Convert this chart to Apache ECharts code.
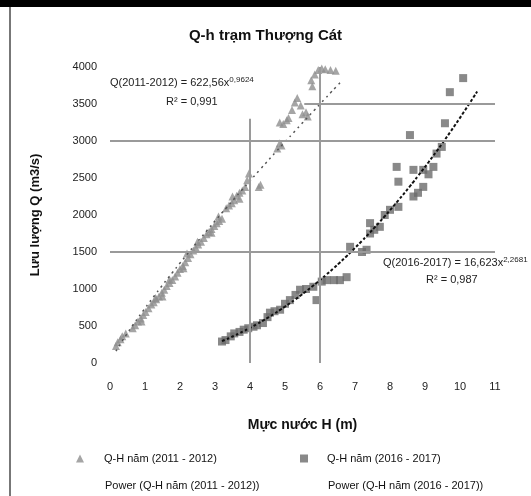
<!DOCTYPE html>
<html>
<head>
<meta charset="utf-8">
<script src="https://cdn.jsdelivr.net/npm/echarts@6/dist/echarts.min.js"></script>
<style>
  html, body { margin: 0; padding: 0; background: #fff; }
  #chart { width: 531px; height: 496px; }
</style>
</head>
<body>
<div id="chart"></div>
<script>
// tên chuỗi
const name1 = 'Q-H năm (2011 - 2012)';
const name2 = 'Q-H năm (2016 - 2017)';
const trend1 = 'Power (Q-H năm (2011 - 2012))';
const trend2 = 'Power (Q-H năm (2016 - 2017))';

// số liệu: mực nước H (m), lưu lượng Q (m3/s)
const h2011 = [0.17, 0.22, 0.3, 0.35, 0.45, 0.65, 0.72, 0.8, 0.88, 0.9, 0.95, 1.02, 1.1, 1.18, 1.25, 1.3,
  1.32, 1.4, 1.48, 1.5, 1.55, 1.62, 1.7, 1.7, 1.78, 1.86, 1.93, 2.0, 2.08, 2.1, 2.15, 2.2, 2.23, 2.3,
  2.38, 2.45, 2.5, 2.52, 2.6, 2.68, 2.76, 2.83, 2.9, 2.9, 2.98, 3.05, 3.1, 3.12, 3.2, 3.32, 3.4, 3.48,
  3.5, 3.55, 3.62, 3.7, 3.7, 3.78, 3.86, 3.92, 3.97, 4.25, 4.3, 4.78, 4.85, 4.9, 4.85, 4.95, 5.05, 5.1,
  5.2, 5.28, 5.35, 5.45, 5.5, 5.6, 5.65, 5.75, 5.78, 5.85, 5.95, 6.05, 6.15, 6.3, 6.45];
const q2011 = [230, 280, 320, 360, 400, 470, 510, 560, 600, 560, 650, 690, 740, 790, 820, 880,
  860, 900, 950, 900, 990, 1040, 1080, 1130, 1120, 1170, 1220, 1270, 1310, 1280, 1360, 1480, 1420, 1470,
  1520, 1560, 1640, 1600, 1640, 1690, 1740, 1770, 1810, 1760, 1850, 1890, 1980, 1920, 1950, 2090, 2130, 2160,
  2250, 2200, 2260, 2300, 2220, 2330, 2380, 2470, 2560, 2380, 2410, 2900, 2970, 2940, 3250, 3230, 3280, 3310,
  3420, 3520, 3580, 3480, 3360, 3390, 3330, 3820, 3740, 3900, 3960, 3980, 3970, 3960, 3950];

const h2016 = [3.2, 3.3, 3.45, 3.55, 3.7, 3.82, 3.95, 4.1, 4.2, 4.37, 4.5, 4.57, 4.7, 4.86, 5.0, 5.14,
  5.3, 5.43, 5.6, 5.81, 5.9, 6.05, 6.19, 6.4, 6.57, 6.76, 6.86, 7.2, 7.33, 7.43, 7.43, 7.55, 7.71, 7.85,
  8.0, 8.24, 8.24, 8.19, 8.57, 8.67, 8.67, 8.8, 8.95, 8.95, 9.1, 9.24, 9.33, 9.48, 9.57, 9.71, 10.09];
const q2016 = [290, 310, 360, 400, 420, 450, 470, 490, 510, 540, 620, 680, 700, 720, 800, 850,
  920, 990, 1000, 1030, 850, 1100, 1120, 1120, 1120, 1160, 1570, 1500, 1530, 1750, 1890, 1800, 1840, 2000,
  2070, 2110, 2450, 2650, 3080, 2250, 2610, 2300, 2380, 2610, 2550, 2650, 2830, 2920, 3240, 3660, 3850];

// trendline kéo dài về phía trước (forecast forward, m)
const forward2011 = 0.15;
const forward2016 = 0.4;

// đường tham chiếu vẽ tay trên hình gốc
const vLines = [[4, 0, 3300], [6, 0, 4000]];      // [H, Q từ, Q đến]
const hLines = [[3500, 5.55, 11], [3000, 0, 11], [1500, 0, 11]]; // [Q, H từ, H đến]

// phương trình ghi trên hình: [vế trái, số mũ], R²
const eq1 = ['Q(2011-2012) = 622,56x', '0,9624', 'R² = 0,991'];
const eq2 = ['Q(2016-2017) = 16,623x', '2,2681', 'R² = 0,987'];

// ghép cặp điểm
function pairs(hs, qs) {
  return hs.map((h, i) => [h, qs[i]]);
}

// hồi quy lũy thừa Q = a*H^b (như trendline Power của Excel)
function powerFit(hs, qs, forward) {
  let n = hs.length, sx = 0, sy = 0, sxx = 0, sxy = 0;
  for (let i = 0; i < n; i++) {
    let x = Math.log(hs[i]), y = Math.log(qs[i]);
    sx += x; sy += y; sxx += x * x; sxy += x * y;
  }
  let b = (n * sxy - sx * sy) / (n * sxx - sx * sx);
  let a = Math.exp((sy - b * sx) / n);
  let xs = hs.slice().sort((p, q) => p - q);
  xs.push(xs[xs.length - 1] + forward);
  return xs.map(h => [h, a * Math.pow(h, b)]);
}

let markLineData = [];
vLines.forEach(v => markLineData.push([{ coord: [v[0], v[1]] }, { coord: [v[0], v[2]] }]));
hLines.forEach(v => markLineData.push([{ coord: [v[1], v[0]] }, { coord: [v[2], v[0]] }]));

const chart = echarts.init(document.getElementById('chart'));
const font = 'Liberation Sans, Arial, sans-serif';

function legendAt(name, left, top, size, gap, hidden) {
  let l = {
    data: [name], left: left, top: top,
    itemWidth: size, itemHeight: size,
    textStyle: { fontSize: 11, color: '#111', fontFamily: font, padding: [0, 0, 0, gap] }
  };
  if (hidden) {
    l.itemStyle = { opacity: 0 };
    l.lineStyle = { opacity: 0 };
  }
  return l;
}

function eqText(eq, left, top) {
  return {
    type: 'text', left: left, top: top,
    style: {
      text: '{m|' + eq[0] + '}{e|' + eq[1] + '}',
      fontFamily: font, fill: '#222',
      rich: {
        m: { fontSize: 11, fill: '#222', fontFamily: font },
        e: { fontSize: 8, fill: '#222', fontFamily: font, verticalAlign: 'top', padding: [0, 0, 6, 0] }
      }
    }
  };
}

chart.setOption({
  animation: false,
  backgroundColor: '#fff',
  title: {
    text: 'Q-h trạm Thượng Cát',
    left: 'center', top: 23,
    textStyle: { fontSize: 15, fontWeight: 'bold', color: '#111', fontFamily: font }
  },
  grid: { left: 110, right: 36, top: 67, bottom: 133 },
  legend: [
    legendAt(name1, 71, 448, 8, 15, false),
    legendAt(name2, 295, 448, 8, 14, false),
    legendAt(trend1, 71, 475, 8, 15, true),
    legendAt(trend2, 295, 475, 8, 14, true)
  ],
  xAxis: {
    type: 'value', min: 0, max: 11, interval: 1,
    name: 'Mực nước H (m)', nameLocation: 'middle', nameGap: 55,
    nameTextStyle: { fontSize: 14, fontWeight: 'bold', color: '#111', fontFamily: font },
    axisLine: { show: false },
    axisTick: { show: false },
    splitLine: { show: false },
    axisLabel: { fontSize: 11, color: '#222', margin: 18, fontFamily: font }
  },
  yAxis: {
    type: 'value', min: 0, max: 4000, interval: 500,
    name: 'Lưu lượng Q (m3/s)', nameLocation: 'middle', nameGap: 68,
    nameTextStyle: { fontSize: 13, fontWeight: 'bold', color: '#111', fontFamily: font },
    axisLine: { show: false },
    axisTick: { show: false },
    splitLine: { show: false },
    axisLabel: { fontSize: 11, color: '#222', margin: 13, fontFamily: font, formatter: v => String(v) }
  },
  series: [
    {
      name: name1, type: 'scatter', symbol: 'triangle', symbolSize: 8,
      itemStyle: { color: '#8e8e8e' },
      data: pairs(h2011, q2011),
      markLine: {
        silent: true, symbol: 'none', label: { show: false },
        lineStyle: { color: '#9a9a9a', width: 2, type: 'solid' },
        data: markLineData
      }
    },
    {
      name: name2, type: 'scatter', symbol: 'rect', symbolSize: 8,
      itemStyle: { color: '#6c6c6c' },
      data: pairs(h2016, q2016)
    },
    {
      name: trend1, type: 'line', symbol: 'none', smooth: true,
      lineStyle: { color: '#555', width: 1.5, type: [2, 4] },
      itemStyle: { color: '#555' },
      data: powerFit(h2011, q2011, forward2011)
    },
    {
      name: trend2, type: 'line', symbol: 'none', smooth: true,
      lineStyle: { color: '#111', width: 2, type: [3, 2] },
      itemStyle: { color: '#111' },
      data: powerFit(h2016, q2016, forward2016)
    }
  ],
  graphic: [
    { type: 'rect', left: 0, top: 0, shape: { width: 531, height: 7 }, style: { fill: '#000' } },
    { type: 'rect', left: 9, top: 7, shape: { width: 2, height: 489 }, style: { fill: '#777' } },
    eqText(eq1, 110, 76),
    { type: 'text', left: 166, top: 96, style: { text: eq1[2], fontSize: 11, fill: '#222', fontFamily: font } },
    eqText(eq2, 383, 256),
    { type: 'text', left: 426, top: 274, style: { text: eq2[2], fontSize: 11, fill: '#222', fontFamily: font } }
  ]
});
</script>
</body>
</html>
